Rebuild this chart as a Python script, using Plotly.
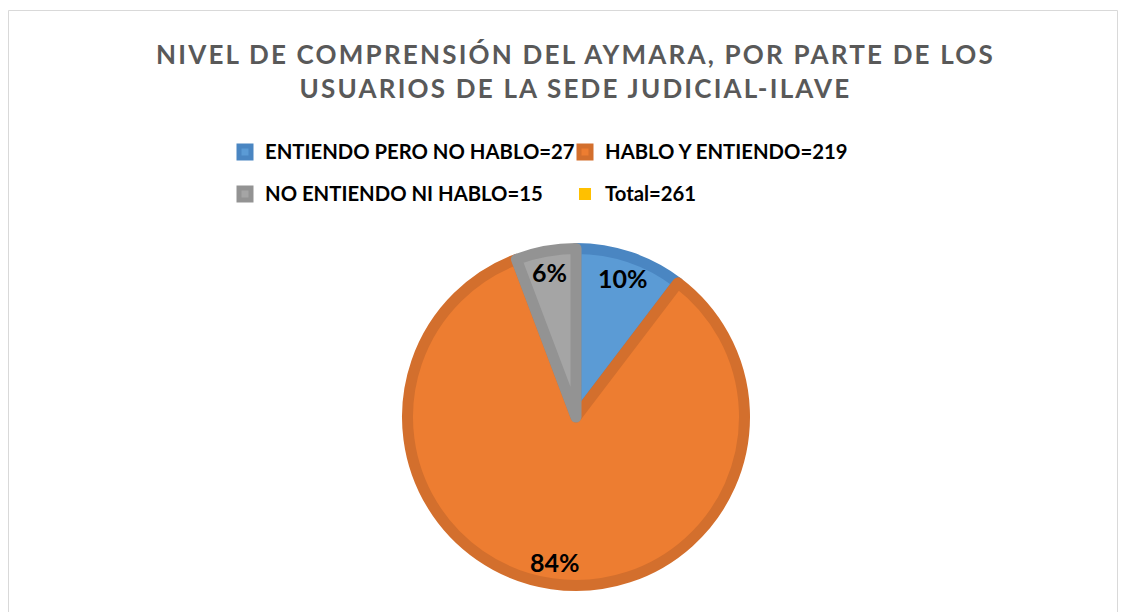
import math
import plotly.graph_objects as go

labels = ["ENTIENDO PERO NO HABLO=27", "HABLO Y ENTIENDO=219",
          "NO ENTIENDO NI HABLO=15", "Total=261"]
values = [27, 219, 15, 0]
fill_colors = ["#5B9BD5", "#ED7D31", "#A5A5A5", "#FFC000"]
edge_colors = ["#4A86C2", "#D36F2D", "#939393", "#E6AD00"]
edge_widths = [11, 11, 11, 0]

title = ('<span style="letter-spacing:2.2px">NIVEL DE COMPRENSIÓN DEL AYMARA, POR PARTE DE LOS</span><br>'
         '<span style="letter-spacing:2.2px">USUARIOS DE LA SEDE JUDICIAL-ILAVE</span>')

# canvas / layout geometry (pixels, page coords; the page body adds an 8px offset)
W, H = 1131, 612
OFF = 8
ml, mr = 215, 215
pw = W - ml - mr
cx, cy, R = 576, 417, 168.5


def px_x(x):
    return (x - OFF - ml) / pw


def px_y(y):
    return 1 - (y - OFF) / H


legend_labels = ['<span style="font-size:20.3px;baseline-shift:5px">%s</span>' % s for s in labels]

fig = go.Figure(go.Pie(
    labels=legend_labels,
    values=values,
    sort=False,
    direction="clockwise",
    rotation=0,
    textinfo="none",
    hoverinfo="value+percent",
    marker=dict(colors=fill_colors, line=dict(color=edge_colors, width=edge_widths)),
    domain=dict(x=[px_x(cx - R), px_x(cx + R)], y=[px_y(cy + R), px_y(cy - R)]),
))

# percentage labels near the outer edge of each slice (like Excel "inside end")
total = sum(values)
start = 0
for v in values:
    if v == 0:
        continue
    mid = (start + v / 2) / total * 2 * math.pi
    start += v
    r = 0.845 * (R + 5.5)
    fig.add_annotation(
        x=px_x(cx + r * math.sin(mid)), y=px_y(cy - r * math.cos(mid)),
        xref="paper", yref="paper", xanchor="center", yanchor="middle", showarrow=False,
        text="%d%%" % round(100 * v / total),
        font=dict(family="Lato", size=25, color="#000000", weight="bold"),
    )

fig.add_shape(type="rect", xref="paper", yref="paper",
              x0=px_x(8.5), x1=px_x(1117.5), y0=px_y(660), y1=px_y(10.5),
              line=dict(color="#D9D9D9", width=1))

fig.update_layout(
    width=W, height=H,
    margin=dict(l=ml, r=mr, t=0, b=0),
    paper_bgcolor="white", plot_bgcolor="white",
    title=dict(text=title, x=(575.5 - OFF) / W, xref="container", xanchor="center",
               y=1 - 56 / H, yref="container", yanchor="middle",
               font=dict(family="Lato", size=26, color="#595959", weight="bold")),
    legend=dict(orientation="h", x=px_x(225), y=px_y(126), xanchor="left", yanchor="top",
                entrywidth=295, entrywidthmode="pixels",
                font=dict(family="Lato", size=30, color="#000000", weight="bold"),
                bgcolor="rgba(0,0,0,0)"),
    showlegend=True,
)

fig.write_html("out.html")
